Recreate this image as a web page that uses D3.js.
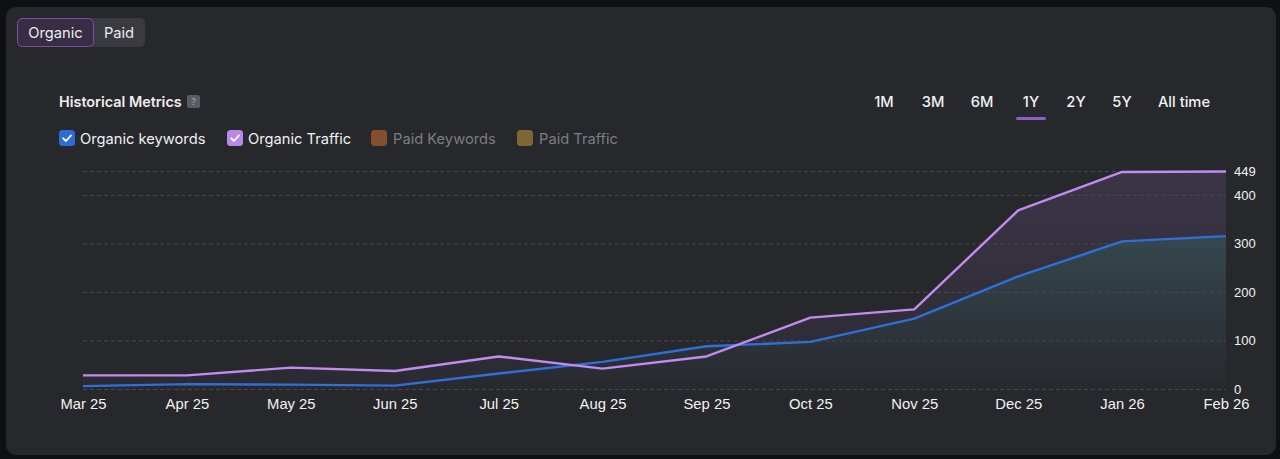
<!DOCTYPE html>
<html>
<head>
<meta charset="utf-8">
<script src="https://cdn.jsdelivr.net/npm/d3@7"></script>
<style>
  html, body { margin: 0; padding: 0; background: #0e1014; }
  svg { display: block; }
</style>
</head>
<body>
<svg id="chart" width="1280" height="459"></svg>
<script>
// data
const months = ["Mar 25", "Apr 25", "May 25", "Jun 25", "Jul 25", "Aug 25",
  "Sep 25", "Oct 25", "Nov 25", "Dec 25", "Jan 26", "Feb 26"];
const organicKeywords = [7, 11, 10, 8, 33, 57, 89, 98, 146, 233, 305, 316];
const organicTraffic = [29, 29, 45, 38, 68, 43, 68, 148, 165, 369, 448, 449];
const yTicks = [0, 100, 200, 300, 400, 449];
const ranges = ["1M", "3M", "6M", "1Y", "2Y", "5Y", "All time"];
const activeRange = "1Y";
const legendLabels = ["Organic keywords", "Organic Traffic", "Paid Keywords", "Paid Traffic"];
const legendColors = ["#2d6bd6", "#b889ea", "#82502f", "#826535"];
const legendChecked = [true, true, false, false];

const svg = d3.select("#chart");
const uiFont = "Inter, 'Noto Sans', sans-serif";
const axisFont = "'Liberation Sans', Arial, sans-serif";
const fs = 14.7;

// card
svg.append("rect")
  .attr("x", 6).attr("y", 7).attr("width", 1270).attr("height", 448)
  .attr("rx", 10).attr("fill", "#27282c");

// Organic / Paid toggle
const toggle = svg.append("g");
toggle.append("rect").attr("x", 17).attr("y", 18).attr("width", 128).attr("height", 29)
  .attr("rx", 5).attr("fill", "#3a3b40");
toggle.append("rect").attr("x", 17.5).attr("y", 18.5).attr("width", 76).attr("height", 28)
  .attr("rx", 5).attr("fill", "#372d44").attr("stroke", "#7a4fa6").attr("stroke-width", 1);
toggle.append("text").attr("x", 55.5).attr("y", 32.5).text("Organic")
  .attr("text-anchor", "middle").attr("dominant-baseline", "central")
  .attr("font-family", uiFont).attr("font-size", fs).attr("fill", "#eceaf0");
toggle.append("text").attr("x", 119).attr("y", 32.5).text("Paid")
  .attr("text-anchor", "middle").attr("dominant-baseline", "central")
  .attr("font-family", uiFont).attr("font-size", fs).attr("fill", "#eceaf0");

// title
svg.append("text").attr("x", 59).attr("y", 101).text("Historical Metrics")
  .attr("dominant-baseline", "central")
  .attr("font-family", uiFont).attr("font-size", 14.4).attr("font-weight", 600).attr("fill", "#eeeeee");
svg.append("rect").attr("x", 187).attr("y", 95).attr("width", 13).attr("height", 13)
  .attr("rx", 2).attr("fill", "#5a5b60");
svg.append("text").attr("x", 193.5).attr("y", 101.5).text("?")
  .attr("text-anchor", "middle").attr("dominant-baseline", "central")
  .attr("font-family", uiFont).attr("font-size", 9).attr("fill", "#a8a8ad");

// range buttons
const rangeX = d3.scaleOrdinal().domain(ranges).range([884, 933, 982, 1031, 1076, 1122, 1184]);
svg.append("g").selectAll("text").data(ranges).join("text")
  .attr("x", d => rangeX(d)).attr("y", 102)
  .attr("text-anchor", "middle").attr("dominant-baseline", "central")
  .attr("font-family", uiFont).attr("font-size", fs).attr("font-weight", 500)
  .attr("fill", "#f0f0f2").text(d => d);
svg.append("rect").attr("x", rangeX(activeRange) - 15).attr("y", 117)
  .attr("width", 30).attr("height", 3).attr("rx", 1.5).attr("fill", "#8f5cc9");

// legend
const legendX = [59, 227, 371, 517];
const legend = svg.append("g").selectAll("g").data(legendLabels).join("g")
  .attr("transform", (d, i) => `translate(${legendX[i]},130)`);
legend.append("rect").attr("width", 16).attr("height", 16).attr("rx", 3.5)
  .attr("fill", (d, i) => legendColors[i]);
legend.filter((d, i) => legendChecked[i]).append("path")
  .attr("d", "M4.2 8.3 L7 11 L12 5.4")
  .attr("fill", "none").attr("stroke", "#fff").attr("stroke-width", 1.8)
  .attr("stroke-linecap", "round").attr("stroke-linejoin", "round");
legend.append("text").attr("x", (d, i) => i < 2 ? 21 : 22).attr("y", 8.5)
  .attr("dominant-baseline", "central")
  .attr("font-family", uiFont).attr("font-size", fs)
  .attr("fill", (d, i) => legendChecked[i] ? "#f0f0f2" : "#7c7d82")
  .text(d => d);

// scales
const x = d3.scalePoint().domain(months).range([83, 1226]);
const y = d3.scaleLinear().domain([0, 449]).range([389.5, 171.5]);

// gradients (opaque, blue area covers the purple one)
const defs = svg.append("defs");
function grad(id, top, bottom, fromVal) {
  const g = defs.append("linearGradient").attr("id", id)
    .attr("gradientUnits", "userSpaceOnUse")
    .attr("x1", 0).attr("x2", 0).attr("y1", y(fromVal)).attr("y2", y(0));
  g.append("stop").attr("offset", "0%").attr("stop-color", top);
  g.append("stop").attr("offset", "100%").attr("stop-color", bottom);
}
grad("gradTraffic", "#3b3547", "#2b2a31", 449);
grad("gradKeywords", "#35474f", "#28292e", 316);

const area = vals => d3.area()
  .x((d, i) => x(months[i])).y0(y(0)).y1(d => y(d))(vals);
const line = vals => d3.line()
  .x((d, i) => x(months[i])).y(d => y(d))(vals);

svg.append("path").attr("d", area(organicTraffic)).attr("fill", "url(#gradTraffic)");
svg.append("path").attr("d", area(organicKeywords)).attr("fill", "url(#gradKeywords)");

// gridlines
svg.append("g").selectAll("line").data(yTicks).join("line")
  .attr("x1", 83).attr("x2", 1226)
  .attr("y1", d => y(d)).attr("y2", d => y(d))
  .attr("stroke", "#47494f").attr("stroke-width", 1).attr("stroke-dasharray", "4,3");

svg.append("path").attr("d", line(organicKeywords))
  .attr("fill", "none").attr("stroke", "#2f6fd9").attr("stroke-width", 2.4)
  .attr("stroke-linejoin", "round");
svg.append("path").attr("d", line(organicTraffic))
  .attr("fill", "none").attr("stroke", "#c08cf0").attr("stroke-width", 2.4)
  .attr("stroke-linejoin", "round");

// y axis labels (right)
svg.append("g").selectAll("text").data(yTicks).join("text")
  .attr("x", 1234).attr("y", d => y(d))
  .attr("dominant-baseline", "central")
  .attr("font-family", axisFont).attr("font-size", 13).attr("fill", "#f2f2f2")
  .text(d => d);

// x axis labels
const xAxis = d3.axisBottom(x).tickSize(0).tickPadding(0);
const gx = svg.append("g").attr("transform", "translate(0,398)").call(xAxis);
gx.select(".domain").remove();
gx.selectAll("text")
  .attr("font-family", axisFont).attr("font-size", 14.8).attr("fill", "#f2f2f2");
</script>
</body>
</html>
